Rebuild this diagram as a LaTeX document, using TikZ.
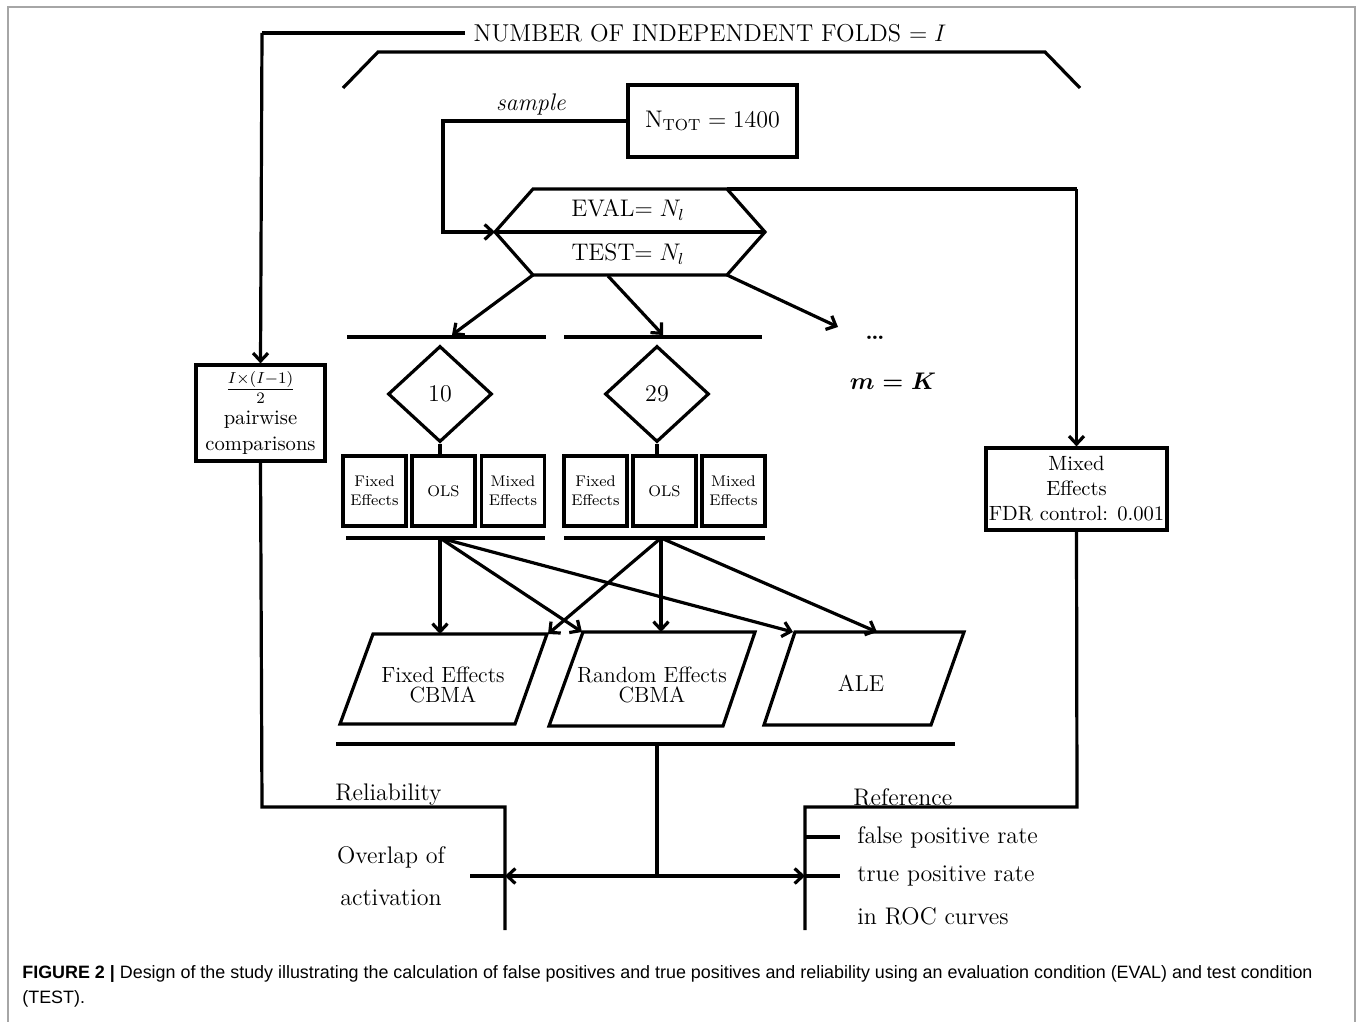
\documentclass[tikz,border=0pt]{standalone}
\usepackage{amsmath, amssymb}
\usepackage{fontspec}
\usetikzlibrary{shapes.geometric, arrows.meta}
\newfontfamily\captionfont{Liberation Sans}
\tikzstyle{thickLine}=[line width = 1.6pt]
\tikzstyle{arrowLine}=[line width = 1.6pt, -{Straight Barb[length = 4pt, width = 7.5pt]}]
\tikzstyle{plainBox}=[shape = rectangle, draw, line width = 1.6pt, inner sep = 1.5pt, align = center]
\tikzstyle{smallBox}=[plainBox, minimum width = 31.5pt, minimum height = 35pt, font = \fontsize{7.7}{9.5}\selectfont]
\tikzstyle{numberDiamond}=[shape = diamond, draw, line width = 1.6pt, minimum width = 52pt, minimum height = 48pt, inner sep = 0pt, font = \fontsize{12}{14}\selectfont]
\tikzstyle{labelText}=[inner sep = 0pt, font = \fontsize{12}{14}\selectfont]

\begin{document}
\begin{tikzpicture}[x = 0.5pt, y = -0.5pt]
\useasboundingbox (0,0) rectangle (1360,1022);
\draw[gray!70, line width = 0.8pt] (8,7) rectangle (1355,1060);
\tikzstyle{parText}=[inner sep = 0pt, align = center, font = \fontsize{11}{10}\selectfont]
\node[labelText, inner sep = 4pt, font = \fontsize{12.2}{14}\selectfont] (folds) at (710,33) {NUMBER OF INDEPENDENT FOLDS $=I$};
\draw[thickLine] (343,88) -- (378,52) -- (1045,52) -- (1080,88);
\node[plainBox, minimum width = 84.5pt, minimum height = 36pt, font = \fontsize{12}{14}\selectfont] (ntot) at (712.5,121) {$\mathrm{N}_{\mathrm{TOT}}=1400$};
\node[labelText] (sample) at (531,105) {\textit{sample}};
\node[plainBox, minimum width = 64.5pt, minimum height = 48pt, inner sep = 1pt, font = \fontsize{10.3}{13}\selectfont] (pairwise) at (260.5,413) {{\fontsize{12}{14}\selectfont$\frac{I\times(I-1)}{2}$}\\[1.5pt]pairwise\\comparisons};
\node[plainBox, minimum width = 90.5pt, minimum height = 41pt, inner sep = 1pt, font = \fontsize{10.3}{12.5}\selectfont] (mixed) at (1076.5,489) {Mixed\\Effects\\FDR control: 0.001};
\coordinate (hexW) at (495,232);
\coordinate (hexE) at (765,232);
\coordinate (hexNW) at (533,189);
\coordinate (hexNE) at (727,189);
\coordinate (hexSW) at (533,275);
\coordinate (hexSE) at (727,275);
\coordinate (hexS) at (608,276);
\draw[thickLine] (hexW) -- (hexNW) -- (hexNE) -- (hexE) -- (hexSE) -- (hexSW) -- cycle;
\draw[thickLine] (hexW) -- (hexE);
\node[labelText] (eval) at (628,210) {EVAL$=N_l$};
\node[labelText] (test) at (628,254) {TEST$=N_l$};
\draw[arrowLine] (ntot.west) -- (443,121) |- (hexW);
\draw[thickLine] (folds.west) -- (262,33) coordinate (foldsCorner);
\draw[arrowLine] (foldsCorner) -- (pairwise.north);
\draw[thickLine] (hexNE) -- (hexNE -| mixed.north) coordinate (mixedCorner);
\draw[arrowLine] (mixedCorner) -- (mixed.north);
\draw[thickLine] (347,337) -- (546,337);
\draw[thickLine] (564,337) -- (762,337);
\coordinate (barA) at (452,335);
\coordinate (barB) at (663,335);
\coordinate (moreFolds) at (838,327);
\draw[arrowLine] (hexSW) -- (barA);
\draw[arrowLine] (hexS) -- (barB);
\draw[arrowLine] (hexSE) -- (moreFolds);
\node[labelText] (dots) at (875,338) {\textbf{\dots}};
\node[labelText] (mk) at (893,381) {$\boldsymbol{m=K}$};
\node[numberDiamond] (dA) at (440,394) {10};
\node[numberDiamond] (dB) at (657,394) {29};
\node[smallBox] (feA) at (374.5,491) {Fixed\\Effects};
\node[smallBox] (olsA) at (443.5,491) {OLS};
\node[smallBox] (meA) at (513,491) {Mixed\\Effects};
\node[smallBox] (feB) at (595.5,491) {Fixed\\Effects};
\node[smallBox] (olsB) at (664.5,491) {OLS};
\node[smallBox] (meB) at (733.5,491) {Mixed\\Effects};
\draw[thickLine] (dA.south) -- (dA.south |- olsA.north);
\draw[thickLine] (dB.south) -- (dB.south |- olsB.north);
\draw[thickLine] (346,538) -- (545,538);
\draw[thickLine] (564,538) -- (765,538);
\coordinate (fanA) at (440,538);
\coordinate (fanB) at (661,538);
\draw[thickLine] (373,634) -- (547,634) -- (515,724) -- (340,724) -- cycle;
\draw[thickLine] (583,632) -- (755,632) -- (723,726) -- (549,726) -- cycle;
\draw[thickLine] (795,632) -- (964,632) -- (931,725) -- (764,725) -- cycle;
\node[parText] (fecbma) at (443,685) {Fixed Effects\\CBMA};
\node[parText] (recbma) at (652,685) {Random Effects\\CBMA};
\node[parText, font = \fontsize{11.5}{10}\selectfont] (ale) at (861,683) {ALE};
\coordinate (feTop) at (440,634);
\coordinate (feTopR) at (548,634);
\coordinate (reTopL) at (582,632);
\coordinate (reTop) at (661,632);
\coordinate (aleTopL) at (793,632);
\coordinate (aleTop) at (877,632);
\draw[arrowLine] (fanA) -- (feTop);
\draw[arrowLine] (fanA) -- (reTopL);
\draw[arrowLine] (fanA) -- (aleTopL);
\draw[arrowLine] (fanB) -- (feTopR);
\draw[arrowLine] (fanB) -- (reTop);
\draw[arrowLine] (fanB) -- (aleTop);
\draw[thickLine] (336,744) -- (955,744);
\coordinate (joinTop) at (657,744);
\coordinate (joinBottom) at (657,876);
\coordinate (relEnd) at (505,876);
\coordinate (refEnd) at (805,876);
\draw[thickLine] (joinTop) -- (joinBottom);
\draw[arrowLine] (joinBottom) -- (relEnd);
\draw[arrowLine] (joinBottom) -- (refEnd);
\draw[thickLine] (470,876) -- (relEnd);
\draw[thickLine] (pairwise.south) -- (262,807) -- (505,807) -- (505,930);
\draw[thickLine] (mixed.south) -- (1077,807) -- (805,807) -- (805,930);
\draw[thickLine] (805,837) -- (840,837);
\draw[thickLine] (refEnd) -- (840,876);
\node[labelText, anchor = west] (reliability) at (335,795) {Reliability};
\node[labelText] (overlap) at (391,857) {Overlap of};
\node[labelText] (activation) at (391,898) {activation};
\node[labelText, anchor = west] (reference) at (853,797) {Reference};
\node[labelText, anchor = west] (fpr) at (857,837) {false positive rate};
\node[labelText, anchor = west] (tpr) at (857,876) {true positive rate};
\node[labelText, anchor = west] (roc) at (857,916) {in ROC curves};
\node[anchor = north west, inner sep = 0pt, align = left, font = \captionfont\fontsize{8.95}{12.5}\selectfont] (caption) at (22,965) {\textbf{FIGURE 2 |} Design of the study illustrating the calculation of false positives and true positives and reliability using an evaluation condition (EVAL) and test condition\\(TEST).};
\end{tikzpicture}
\end{document}
